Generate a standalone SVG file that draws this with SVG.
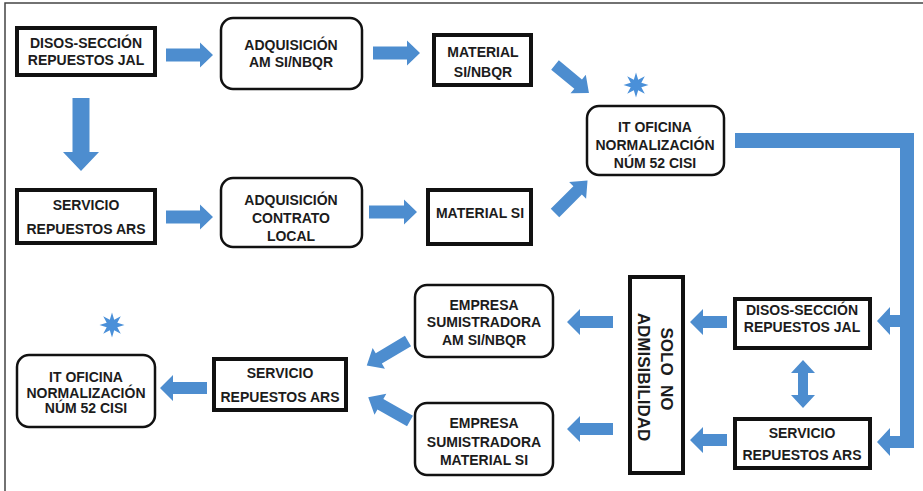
<svg xmlns="http://www.w3.org/2000/svg" xmlns:xlink="http://www.w3.org/1999/xlink" width="923" height="491" viewBox="0 0 923 491">
<style>
.sq{fill:#fff;stroke:#111;stroke-width:4}
.rd{fill:#fff;stroke:#111;stroke-width:2.5}
.t{font-family:"Liberation Sans",Arial,sans-serif;font-weight:bold;font-size:14px;fill:#1c1c1c;text-anchor:middle}
.big{font-size:17px;white-space:pre}
.ar{fill:#4d8dcf}
.st{fill:#4a90d9}
.frame{stroke:#444;stroke-width:1.5;fill:none}
</style>
<defs>
<polygon id="star" points="12.5,0 5.3,2.2 8.8,8.8 2.2,5.3 0,12.5 -2.2,5.3 -8.8,8.8 -5.3,2.2 -12.5,0 -5.3,-2.2 -8.8,-8.8 -2.2,-5.3 0,-12.5 2.2,-5.3 8.8,-8.8 5.3,-2.2"/>
</defs>
<rect width="923" height="491" fill="#fff"/>
<path class="frame" d="M5,491 V3 H923"/>

<g id="connectors">
<polygon class="ar" points="166,48.5 200,48.5 200,42.5 213,55 200,67.5 200,61.5 166,61.5"/>
<polygon class="ar" points="166,210.5 200,210.5 200,204.5 213,217 200,229.5 200,223.5 166,223.5"/>
<polygon class="ar" points="373,46.5 407,46.5 407,40.5 420,53 407,65.5 407,59.5 373,59.5"/>
<polygon class="ar" points="369,205.5 404,205.5 404,199.5 417,212 404,224.5 404,218.5 369,218.5"/>
<polygon class="ar" points="72.5,98 89.5,98 89.5,152 99,152 81,171 63,152 72.5,152"/>
<polygon class="ar" transform="translate(555,65) rotate(39.5)" points="0,-6 30,-6 30,-12 44,0 30,12 30,6 0,6"/>
<polygon class="ar" transform="translate(555,213) rotate(-45)" points="0,-6 32,-6 32,-12 46,0 32,12 32,6 0,6"/>
<rect class="ar" x="735" y="133" width="179" height="15"/>
<rect class="ar" x="900" y="133" width="14" height="315"/>
<polygon class="ar" points="902,315 890,315 890,307 877,321 890,335 890,327 902,327"/>
<polygon class="ar" points="902,436 890,436 890,428 877,442 890,456 890,448 902,448"/>
<polygon class="ar" points="803,360 815,373 808,373 808,395 815,395 803,408 791,395 798,395 798,373 791,373"/>
<polygon class="ar" points="727,316 703,316 703,309 690,322 703,335 703,328 727,328"/>
<polygon class="ar" points="727,434 703,434 703,427 690,440 703,453 703,446 727,446"/>
<polygon class="ar" points="613,316 580,316 580,309 567,322 580,335 580,328 613,328"/>
<polygon class="ar" points="613,423 580,423 580,416 567,429 580,442 580,435 613,435"/>
<polygon class="ar" transform="translate(408,341) rotate(149.2)" points="0,-6 34,-6 34,-12 48,0 34,12 34,6 0,6"/>
<polygon class="ar" transform="translate(410,421) rotate(-150.5)" points="0,-6 34,-6 34,-12 48,0 34,12 34,6 0,6"/>
<polygon class="ar" points="207,382 173,382 173,375 160,388 173,401 173,394 207,394"/>
</g>

<g id="n1"><rect class="sq" x="17" y="28" width="138" height="47"/><text class="t" x="86" y="48">DISOS-SECCIÓN</text><text class="t" x="86" y="65">REPUESTOS JAL</text></g>
<g id="n2"><rect class="rd" x="221" y="18" width="141" height="71" rx="12"/><text class="t" x="291" y="50">ADQUISICIÓN</text><text class="t" x="291" y="67">AM SI/NBQR</text></g>
<g id="n3"><rect class="sq" x="434" y="35" width="97" height="50"/><text class="t" x="483" y="57">MATERIAL</text><text class="t" x="483" y="77">SI/NBQR</text></g>
<g id="n4"><rect class="rd" x="587" y="106" width="137" height="69" rx="12"/><text class="t" x="655" y="132">IT OFICINA</text><text class="t" x="655" y="150">NORMALIZACIÓN</text><text class="t" x="655" y="168">NÚM 52 CISI</text></g>
<g id="star1"><use xlink:href="#star" href="#star" class="st" x="636" y="85"/></g>
<g id="n5"><rect class="sq" x="17" y="190" width="138" height="53"/><text class="t" x="86" y="210">SERVICIO</text><text class="t" x="86" y="234">REPUESTOS ARS</text></g>
<g id="n6"><rect class="rd" x="221" y="178" width="141" height="69" rx="12"/><text class="t" x="291" y="205">ADQUISICIÓN</text><text class="t" x="291" y="223">CONTRATO</text><text class="t" x="291" y="241">LOCAL</text></g>
<g id="n7"><rect class="sq" x="428" y="190" width="103" height="54"/><text class="t" x="480" y="218">MATERIAL SI</text></g>
<g id="n8"><rect class="sq" x="735" y="299" width="135" height="49"/><text class="t" x="802" y="315">DISOS-SECCIÓN</text><text class="t" x="802" y="332">REPUESTOS JAL</text></g>
<g id="n9"><rect class="sq" x="735" y="419" width="135" height="49"/><text class="t" x="802" y="438">SERVICIO</text><text class="t" x="802" y="460">REPUESTOS ARS</text></g>
<g id="n10"><rect class="sq" x="630" y="277" width="53" height="196"/><text class="t big" transform="translate(661,369) rotate(90)" xml:space="preserve">SOLO  NO</text><text class="t big" transform="translate(638,377) rotate(90)">ADMISIBILIDAD</text></g>
<g id="n11"><rect class="rd" x="415" y="285" width="138" height="72" rx="12"/><text class="t" x="484" y="310">EMPRESA</text><text class="t" x="484" y="327">SUMISTRADORA</text><text class="t" x="484" y="345">AM SI/NBQR</text></g>
<g id="n12"><rect class="rd" x="415" y="403" width="138" height="72" rx="12"/><text class="t" x="484" y="428">EMPRESA</text><text class="t" x="484" y="447">SUMISTRADORA</text><text class="t" x="484" y="465">MATERIAL SI</text></g>
<g id="n13"><rect class="sq" x="214" y="359" width="132" height="51"/><text class="t" x="280" y="378">SERVICIO</text><text class="t" x="280" y="402">REPUESTOS ARS</text></g>
<g id="n14"><rect class="rd" x="17" y="355" width="138" height="72" rx="12"/><text class="t" x="86" y="382">IT OFICINA</text><text class="t" x="86" y="398">NORMALIZACIÓN</text><text class="t" x="86" y="413">NÚM 52 CISI</text></g>
<g id="star2"><use xlink:href="#star" href="#star" class="st" x="112" y="325"/></g>
</svg>
